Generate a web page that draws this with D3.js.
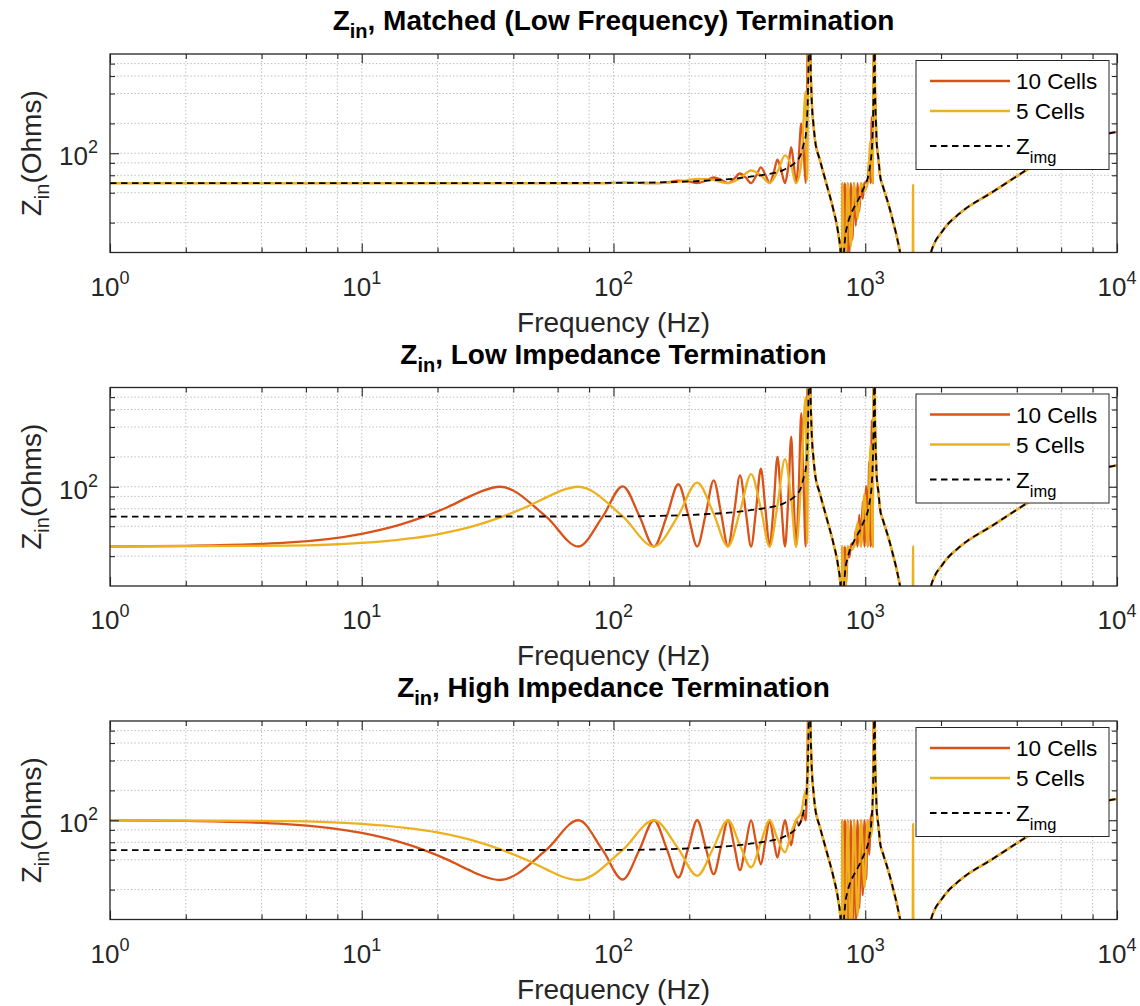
<!DOCTYPE html>
<html><head><meta charset="utf-8">
<script src="https://cdn.jsdelivr.net/npm/d3@7"></script>
<style>
html,body{margin:0;padding:0;background:#fff;}
svg text{font-family:"Liberation Sans",Arial,Helvetica,sans-serif;}
</style></head><body>
<svg id="chart" width="1140" height="1006"></svg>
<script>
// ---------------- DATA ----------------
const xMajorTicks = [1, 10, 100, 1000, 10000];
const xTickExponents = ["0", "1", "2", "3", "4"];
const xMinorTicks = [2, 4, 6, 8, 20, 40, 60, 80, 200, 400, 600, 800, 2000, 4000, 6000, 8000];
const yMajorTicks = [100];
const yTickExponents = ["2"];
const yMinorTicks = [20, 40, 60, 80, 200, 400, 600, 800];
const yDomain = [10, 1000];

const panelTitles = [", Matched (Low Frequency) Termination", ", Low Impedance Termination", ", High Impedance Termination"];
const seriesNames = ["10 Cells", "5 Cells", "img"];

// image impedance (dashed), first pass band
const imgPb1Freq = [1, 100, 150, 200, 250, 300, 350, 400, 450, 480, 508, 531, 557, 570, 580, 586, 592, 596, 599];
const imgPb1Z    = [50, 50.2, 50.8, 52, 53.5, 55.3, 58, 61, 64.5, 69, 75, 82, 100, 125, 150, 200, 400, 1200, 8000];
// first stop band (all curves follow Z_img)
const stop1Freq = [602, 606, 613, 622, 632, 661, 703, 747, 780, 799, 805, 808];
const stop1Z    = [8000, 1000, 340, 200, 135, 85, 48, 27, 16, 9.5, 4, 0.8];
// image impedance, second pass band
const imgPb2Freq = [812, 820, 832, 850, 869, 900, 920, 960, 988, 1010, 1028, 1045, 1061, 1070, 1078, 1084, 1088];
const imgPb2Z    = [3, 8, 14, 19, 23, 28, 31, 38, 45, 51, 59, 75, 105, 160, 350, 1000, 8000];
// second stop band
const stop2Freq = [1091, 1093, 1103, 1110, 1127, 1145, 1180, 1217, 1254, 1293, 1334, 1370, 1420, 1480, 1530, 1575, 1650, 1750, 1824, 2042, 2378, 3226, 4378, 5937, 8052, 10000];
const stop2Z    = [8000, 500, 200, 130, 90, 60, 45, 35, 27, 20, 14.5, 10.5, 6.5, 3.5, 1.5, 0.5, 2.5, 6.5, 10, 16.9, 24.9, 41.1, 67.9, 107.8, 146.6, 164];

// 10 cells, first pass band
const pb1FreqTen = [1, 2, 5, 10, 14, 17.7, 22, 26.5, 30, 35.4, 54, 72.5, 90.6, 108.8, 126.8, 144.8, 163, 181, 198, 215, 232.5, 250, 267.5, 285, 301.5, 318, 335, 352, 368.5, 385, 401, 417, 432.5, 448, 464, 480, 494, 508, 519.5, 531, 544, 557, 568.5, 580, 586, 592, 598];
const tenMatchedPb1 = [50, 50, 50, 50, 50, 50, 50, 50, 50, 50, 50, 50, 50, 50.5, 50.3, 50, 51, 53, 52, 50, 53, 57, 54, 50, 55.5, 62.5, 57, 50, 59, 72, 61, 50, 63, 86, 66.5, 50, 71, 115, 78, 50, 88, 200, 115, 50, 200, 3000, 8000];
const tenLowPb1     = [25, 25.4, 27.3, 33.6, 41.1, 50, 62.6, 78.6, 90.5, 100, 50, 25, 50, 101, 50.5, 25, 51, 106, 52, 25, 53, 116, 54, 25, 55.5, 130, 57, 25, 59, 152, 61, 25, 63, 200, 66.5, 25, 71, 320, 78, 25, 88, 550, 115, 25, 200, 3000, 8000];
const tenHighPb1    = [100, 98.4, 91.6, 74.4, 60.8, 50, 39.9, 31.8, 27.6, 25, 50, 100, 50, 25.3, 50.5, 100, 51, 26.5, 52, 100, 53, 28.6, 54, 100, 55.5, 31.4, 57, 100, 59, 36, 61, 100, 63, 42, 66.5, 100, 71, 56, 78, 100, 90, 100, 118, 100, 200, 900, 8000];

// 5 cells, first pass band
const pb1FreqFive = [1, 5, 10, 20, 28, 36.25, 45, 54.4, 62, 72.5, 108.8, 144.8, 181, 215, 250, 285, 318, 352, 385, 417, 448, 480, 508, 531, 557, 580, 588, 597];
const fiveMatchedPb1 = [50, 50, 50, 50, 50, 50, 50, 50, 50, 50, 50.3, 50, 51.5, 55, 53.5, 50, 56, 67, 60, 50, 65, 95, 75, 50, 80, 420, 54, 8000];
const fiveLowPb1     = [25, 25.5, 27.2, 33.2, 40.4, 50, 62.5, 78.6, 91.5, 100, 50.3, 25, 51.5, 110, 53.5, 25, 56, 134, 60, 25, 65, 190, 75, 25, 120, 800, 27, 8000];
const fiveHighPb1    = [100, 98, 92, 75.3, 61.9, 50, 40, 31.8, 27.3, 25, 50.3, 100, 51.5, 27.6, 53.5, 100, 56, 33.6, 60, 100, 65, 47.6, 75, 100, 120, 200, 150, 8000];

// 10 cells, second pass band
const pb2FreqTen = [811, 820, 830, 841, 852, 864, 876, 889, 903, 917, 932, 947, 962, 977, 993, 1008, 1023, 1037, 1050, 1062, 1071, 1079, 1088];
const tenMatchedPb2 = [50, 1.3, 50, 5.4, 50, 9.7, 50, 13.5, 50, 18.6, 50, 26, 50, 35, 50, 51, 50, 90, 50, 233, 50, 3200, 8000];
const tenLowPb2     = [25, 2.6, 25, 10.9, 25, 19.4, 25, 27, 25, 37, 25, 52, 25, 70.6, 25, 102, 25, 180, 25, 467, 25, 6400, 8000];
const tenHighPb2    = [100, 0.64, 100, 2.7, 100, 4.8, 100, 6.8, 100, 9.3, 100, 13, 100, 17.6, 100, 25.5, 100, 45, 100, 117, 100, 1600, 8000];

// 5 cells, second pass band
const pb2FreqFive = [811, 830, 852, 876, 903, 932, 962, 993, 1023, 1050, 1071, 1080, 1088];
const fiveMatchedPb2 = [50, 3.4, 50, 11.5, 50, 21.8, 50, 42, 50, 134, 50, 3000, 8000];
const fiveLowPb2     = [25, 6.8, 25, 23, 25, 43.6, 25, 84.6, 25, 269, 25, 5000, 8000];
const fiveHighPb2    = [100, 1.7, 100, 5.8, 100, 10.9, 100, 21, 100, 67, 100, 1600, 8000];

// 5 cells, narrow spike in the second stop band
const spikeFreq = [1540, 1549, 1556];
const spikeMatched = [1.3, 48, 1.1];
const spikeLow     = [1.3, 25, 1.1];
const spikeHigh    = [1.3, 92, 1.1];

// ---------------- DRAW ----------------
const svg = d3.select("#chart");
const left = 110, right = 1117, plotH = 198.5;
const tops = [54, 387.5, 721];
const colTen = "#D95319", colFive = "#EDB120", axisCol = "#262626";
const x = d3.scaleLog().domain([1, 10000]).range([left, right]);

function build(parts) {
  const pts = [];
  parts.forEach(([f, z]) => f.forEach((v, i) => pts.push([v, z[i]])));
  pts.sort((a, b) => a[0] - b[0]);
  return pts;
}
const imgSeries = build([[imgPb1Freq, imgPb1Z], [stop1Freq, stop1Z], [imgPb2Freq, imgPb2Z], [stop2Freq, stop2Z]]);

const panels = [
  {ten: [tenMatchedPb1, tenMatchedPb2], five: [fiveMatchedPb1, fiveMatchedPb2], spike: spikeMatched},
  {ten: [tenLowPb1, tenLowPb2], five: [fiveLowPb1, fiveLowPb2], spike: spikeLow},
  {ten: [tenHighPb1, tenHighPb2], five: [fiveHighPb1, fiveHighPb2], spike: spikeHigh}
];

const defs = svg.append("defs");

panels.forEach((p, i) => {
  const top = tops[i], bottom = top + plotH;
  const y = d3.scaleLog().domain(yDomain).range([bottom, top]);
  const g = svg.append("g");
  const cid = "clip" + i;
  defs.append("clipPath").attr("id", cid).append("rect")
    .attr("x", left).attr("y", top).attr("width", right - left).attr("height", plotH);

  // grid
  const gx = xMajorTicks.concat(xMinorTicks).filter(v => v > 1 && v < 10000);
  g.append("g").selectAll("line").data(gx).enter().append("line")
    .attr("x1", d => x(d)).attr("x2", d => x(d)).attr("y1", top).attr("y2", bottom)
    .attr("stroke", "#b8b8b8").attr("stroke-width", 1).attr("stroke-dasharray", "1.3,2.2");
  const gy = yMajorTicks.concat(yMinorTicks);
  g.append("g").selectAll("line").data(gy).enter().append("line")
    .attr("x1", left).attr("x2", right).attr("y1", d => y(d)).attr("y2", d => y(d))
    .attr("stroke", "#b8b8b8").attr("stroke-width", 1).attr("stroke-dasharray", "1.3,2.2");

  // curves
  const line = d3.line().x(d => x(d[0])).y(d => y(d[1])).curve(d3.curveMonotoneX);
  const tenS = build([[pb1FreqTen, p.ten[0]], [stop1Freq, stop1Z], [pb2FreqTen, p.ten[1]], [stop2Freq, stop2Z]]);
  const fiveS = build([[pb1FreqFive, p.five[0]], [stop1Freq, stop1Z], [pb2FreqFive, p.five[1]], [stop2Freq, stop2Z], [spikeFreq, p.spike]]);
  const lg = g.append("g").attr("clip-path", `url(#${cid})`);
  lg.append("path").attr("d", line(tenS)).attr("fill", "none").attr("stroke", colTen)
    .attr("stroke-width", 2.3).attr("stroke-linejoin", "round");
  lg.append("path").attr("d", line(fiveS)).attr("fill", "none").attr("stroke", colFive)
    .attr("stroke-width", 2.3).attr("stroke-linejoin", "round");
  lg.append("path").attr("d", line(imgSeries)).attr("fill", "none").attr("stroke", "#000")
    .attr("stroke-width", 1.8).attr("stroke-dasharray", "6.5,4.5");

  // ticks via d3 axes (inward)
  const tickStyle = sel => { sel.select(".domain").remove(); sel.selectAll("line").attr("stroke", axisCol).attr("stroke-width", 1.1); sel.selectAll("text").remove(); };
  g.append("g").attr("transform", `translate(0,${bottom})`).call(d3.axisBottom(x).tickValues(xMajorTicks).tickSize(-9).tickFormat("")).call(tickStyle);
  g.append("g").attr("transform", `translate(0,${bottom})`).call(d3.axisBottom(x).tickValues(xMinorTicks).tickSize(-5).tickFormat("")).call(tickStyle);
  g.append("g").attr("transform", `translate(0,${top})`).call(d3.axisTop(x).tickValues(xMajorTicks).tickSize(-9).tickFormat("")).call(tickStyle);
  g.append("g").attr("transform", `translate(0,${top})`).call(d3.axisTop(x).tickValues(xMinorTicks).tickSize(-5).tickFormat("")).call(tickStyle);
  g.append("g").attr("transform", `translate(${left},0)`).call(d3.axisLeft(y).tickValues(yMajorTicks).tickSize(-9).tickFormat("")).call(tickStyle);
  g.append("g").attr("transform", `translate(${left},0)`).call(d3.axisLeft(y).tickValues(yMinorTicks).tickSize(-5).tickFormat("")).call(tickStyle);
  g.append("g").attr("transform", `translate(${right},0)`).call(d3.axisRight(y).tickValues(yMajorTicks).tickSize(-9).tickFormat("")).call(tickStyle);
  g.append("g").attr("transform", `translate(${right},0)`).call(d3.axisRight(y).tickValues(yMinorTicks).tickSize(-5).tickFormat("")).call(tickStyle);

  // box
  g.append("rect").attr("x", left).attr("y", top).attr("width", right - left).attr("height", plotH)
    .attr("fill", "none").attr("stroke", axisCol).attr("stroke-width", 1.3);

  // x tick labels
  xMajorTicks.forEach((v, k) => {
    const t = g.append("text").attr("x", x(v)).attr("y", bottom + 43).attr("text-anchor", "middle")
      .attr("font-size", 26).attr("fill", axisCol);
    t.append("tspan").text("10");
    t.append("tspan").attr("dy", -12).attr("font-size", 18).text(xTickExponents[k]);
  });
  // y tick labels
  yMajorTicks.forEach((v, k) => {
    const t = g.append("text").attr("x", left - 12).attr("y", y(v) + 12).attr("text-anchor", "end")
      .attr("font-size", 26).attr("fill", axisCol);
    t.append("tspan").text("10");
    t.append("tspan").attr("dy", -12).attr("font-size", 18).text(yTickExponents[k]);
  });

  // x label
  g.append("text").attr("x", (left + right) / 2).attr("y", bottom + 79).attr("text-anchor", "middle")
    .attr("font-size", 28).attr("fill", axisCol).text("Frequency (Hz)");
  // y label
  const yl = g.append("text").attr("transform", `translate(41,${(top + bottom) / 2}) rotate(-90)`)
    .attr("text-anchor", "middle").attr("font-size", 28).attr("fill", axisCol);
  yl.append("tspan").text("Z");
  yl.append("tspan").attr("dy", 8).attr("font-size", 20).text("in");
  yl.append("tspan").attr("dy", -8).text("(Ohms)");

  // title
  const tt = g.append("text").attr("x", (left + right) / 2).attr("y", top - 24).attr("text-anchor", "middle")
    .attr("font-size", 28).attr("font-weight", "bold").attr("fill", "#000");
  tt.append("tspan").text("Z");
  tt.append("tspan").attr("dy", 8).attr("font-size", 20).text("in");
  tt.append("tspan").attr("dy", -8).text(panelTitles[i]);

  // legend
  const lx = 916, ly = top + 6.5, lw = 193, lh = 109;
  const leg = g.append("g");
  leg.append("rect").attr("x", lx).attr("y", ly).attr("width", lw).attr("height", lh)
    .attr("fill", "#fff").attr("stroke", axisCol).attr("stroke-width", 1);
  const entries = [
    {name: seriesNames[0], color: colTen, dash: null, yy: top + 27},
    {name: seriesNames[1], color: colFive, dash: null, yy: top + 57},
    {name: seriesNames[2], color: "#000", dash: "6.5,4.5", yy: top + 92}
  ];
  entries.forEach((e, k) => {
    const l = leg.append("line").attr("x1", 930).attr("x2", 1010).attr("y1", e.yy).attr("y2", e.yy)
      .attr("stroke", e.color).attr("stroke-width", k < 2 ? 2.3 : 1.8);
    if (e.dash) l.attr("stroke-dasharray", e.dash);
    const t = leg.append("text").attr("x", 1016).attr("y", e.yy + 8).attr("font-size", 22.5).attr("fill", "#000");
    if (k < 2) t.text(e.name);
    else { t.append("tspan").text("Z"); t.append("tspan").attr("dy", 9).attr("font-size", 16.5).text(e.name); }
  });
});
</script></body></html>
